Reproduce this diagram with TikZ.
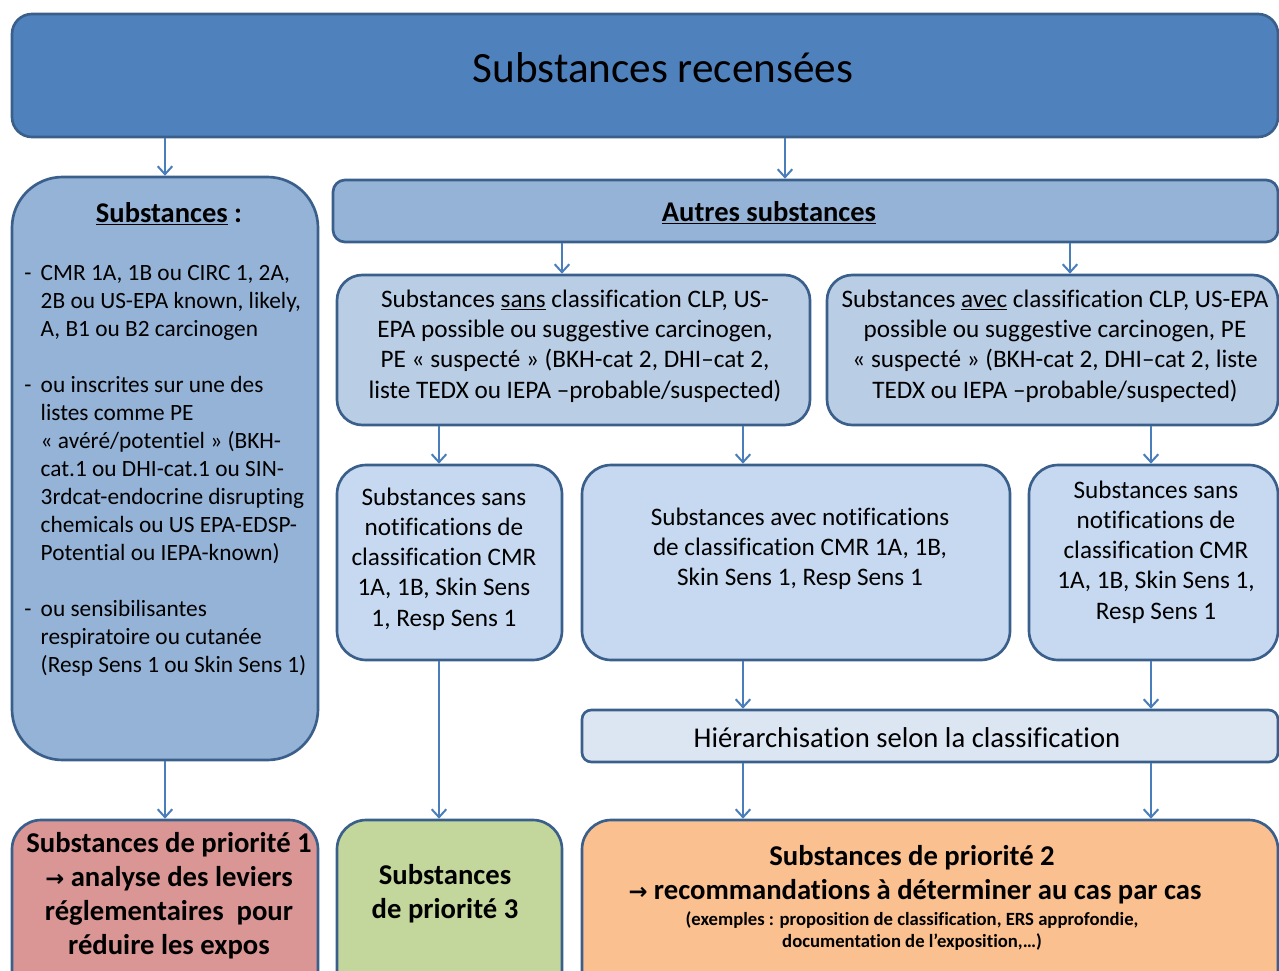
\documentclass[tikz,border=0pt]{standalone}
\usepackage{fontspec}
\setmainfont{Carlito}[Ligatures=NoCommon]
\newfontfamily\djv{DejaVu Sans}
\usetikzlibrary{arrows.meta,fit}
\definecolor{bord}{HTML}{3A5F8B}
\definecolor{arrc}{HTML}{4A7EBB}
\definecolor{ctop}{HTML}{4F81BD}
\definecolor{cmid}{HTML}{95B3D7}
\definecolor{ccls}{HTML}{B9CDE5}
\definecolor{cnot}{HTML}{C6D9F1}
\definecolor{chier}{HTML}{DCE6F2}
\definecolor{cpone}{HTML}{D99694}
\definecolor{cpthree}{HTML}{C3D69B}
\definecolor{cptwo}{HTML}{FAC090}
\newcommand{\myarrow}{{\djv\bfseries\fontsize{17}{17}\selectfont →}}
\begin{document}
\begin{tikzpicture}[x=0.75pt,y=-0.75pt,
  box/.style={draw=bord, line width=2pt, inner sep=0pt, rounded corners=#1},
  txt/.style={inner sep=0pt, align=center, font=\fontsize{18.9}{22.7}\selectfont},
  btxt/.style={inner sep=0pt, align=center, font=\fontsize{21.5}{25.5}\selectfont\bfseries},
  arr/.style={draw=arrc, line width=1.5pt, -{Straight Barb[length=6pt,width=11pt]}}]
\useasboundingbox (0,0) rectangle (1279,971);
\clip (0,0) rectangle (1279,971);
% boxes
\node[box=15pt, fill=ctop, fit={(12,14) (1278,137)}] (top) {};
\node[box=38pt, fill=cmid, fit={(12,177) (318,760)}] (left) {};
\node[box=9pt, fill=cmid, fit={(333,180) (1278,242)}] (autres) {};
\node[box=19pt, fill=ccls, fit={(337,275) (810,425)}] (sans) {};
\node[box=19pt, fill=ccls, fit={(827,275) (1278,425)}] (avec) {};
\node[box=22pt, fill=cnot, fit={(337,465) (562,660)}] (nleft) {};
\node[box=22pt, fill=cnot, fit={(582,465) (1010,660)}] (nmid) {};
\node[box=22pt, fill=cnot, fit={(1029,465) (1278,660)}] (nright) {};
\node[box=7pt, fill=chier, fit={(582,710) (1278,762)}] (hier) {};
\node[box=22pt, fill=cpone, fit={(12,820) (318,1010)}] (pone) {};
\node[box=22pt, fill=cpthree, fit={(337,820) (562,1010)}] (pthree) {};
\node[box=22pt, fill=cptwo, fit={(582,820) (1278,1010)}] (ptwo) {};
% texts
\node[inner sep=0pt, font=\fontsize{32.4}{38}\selectfont] (ttl) at (663,68) {Substances recensées};
\node[inner sep=0pt, font=\fontsize{21.4}{24}\selectfont\bfseries] (ltitle) at (169,214) {\underline{Substances} :};
\node[inner sep=0pt, font=\fontsize{21.4}{24}\selectfont\bfseries] (atitle) at (769,213) {\underline{Autres substances}};
\node[inner sep=0pt, anchor=north west, font=\fontsize{17.5}{21}\selectfont] (llist) at (24,261)
 {\begin{tabular}{@{}l@{\hspace{7pt}}l@{}}
 - & CMR 1A, 1B ou CIRC 1, 2A,\\
   & 2B ou US-EPA known, likely,\\
   & A, B1 ou B2 carcinogen\\
   & \\
 - & ou inscrites sur une des\\
   & listes comme PE\\
   & « avéré/potentiel » (BKH-\\
   & cat.1 ou DHI-cat.1 ou SIN-\\
   & 3rdcat-endocrine disrupting\\
   & chemicals ou US EPA-EDSP-\\
   & Potential ou IEPA-known)\\
   & \\
 - & ou sensibilisantes\\
   & respiratoire ou cutanée\\
   & (Resp Sens 1 ou Skin Sens 1)
 \end{tabular}};
\node[txt] (tsans) at (575,346) {Substances \underline{sans} classification CLP, US-\\EPA possible ou suggestive carcinogen,\\PE « suspecté » (BKH-cat 2, DHI–cat 2,\\liste TEDX ou IEPA –probable/suspected)};
\node[txt] (tavec) at (1055,346) {Substances \underline{avec} classification CLP, US-EPA\\possible ou suggestive carcinogen, PE\\« suspecté » (BKH-cat 2, DHI–cat 2, liste\\TEDX ou IEPA –probable/suspected)};
\node[txt] (tnleft) at (444,559) {Substances sans\\notifications de\\classification CMR\\1A, 1B, Skin Sens\\1, Resp Sens 1};
\node[txt] (tnmid) at (800,549) {Substances avec notifications\\de classification CMR 1A, 1B,\\Skin Sens 1, Resp Sens 1};
\node[txt] (tnright) at (1156,552) {Substances sans\\notifications de\\classification CMR\\1A, 1B, Skin Sens 1,\\Resp Sens 1};
\node[inner sep=0pt, font=\fontsize{21.5}{24}\selectfont] (thier) at (907,738) {Hiérarchisation selon la classification};
\node[btxt] (tpone) at (169,896) {Substances de priorité 1\\\myarrow{} analyse des leviers\\réglementaires\ \ pour\\réduire les expos};
\node[btxt] (tpthree) at (445,894) {Substances\\de priorité 3};
\node[btxt] (tptwoa) at (912,858) {Substances de priorité 2};
\node[btxt] (tptwob) at (915,892) {\myarrow{} recommandations à déterminer au cas par cas};
\node[inner sep=0pt, align=center, font=\fontsize{14}{16.5}\selectfont\bfseries] (tptwoc) at (912,931) {(exemples : proposition de classification, ERS approfondie,\\documentation de l’exposition,…)};
% x positions
\coordinate (xa) at (165,0);
\coordinate (xb) at (785,0);
\coordinate (xc) at (562,0);
\coordinate (xd) at (1070,0);
\coordinate (xe) at (439,0);
\coordinate (xf) at (743,0);
\coordinate (xg) at (1151,0);
% arrows
\draw[arr] (top.south -| xa) -- (left.north -| xa);
\draw[arr] (top.south -| xb) -- (autres.north -| xb);
\draw[arr] (autres.south -| xc) -- (sans.north -| xc);
\draw[arr] (autres.south -| xd) -- (avec.north -| xd);
\draw[arr] (sans.south -| xe) -- (nleft.north -| xe);
\draw[arr] (sans.south -| xf) -- (nmid.north -| xf);
\draw[arr] (avec.south -| xg) -- (nright.north -| xg);
\draw[arr] (nmid.south -| xf) -- (hier.north -| xf);
\draw[arr] (nright.south -| xg) -- (hier.north -| xg);
\draw[arr] (hier.south -| xf) -- (ptwo.north -| xf);
\draw[arr] (hier.south -| xg) -- (ptwo.north -| xg);
\draw[arr] (left.south -| xa) -- (pone.north -| xa);
\draw[arr] (nleft.south -| xe) -- (pthree.north -| xe);
\end{tikzpicture}
\end{document}
